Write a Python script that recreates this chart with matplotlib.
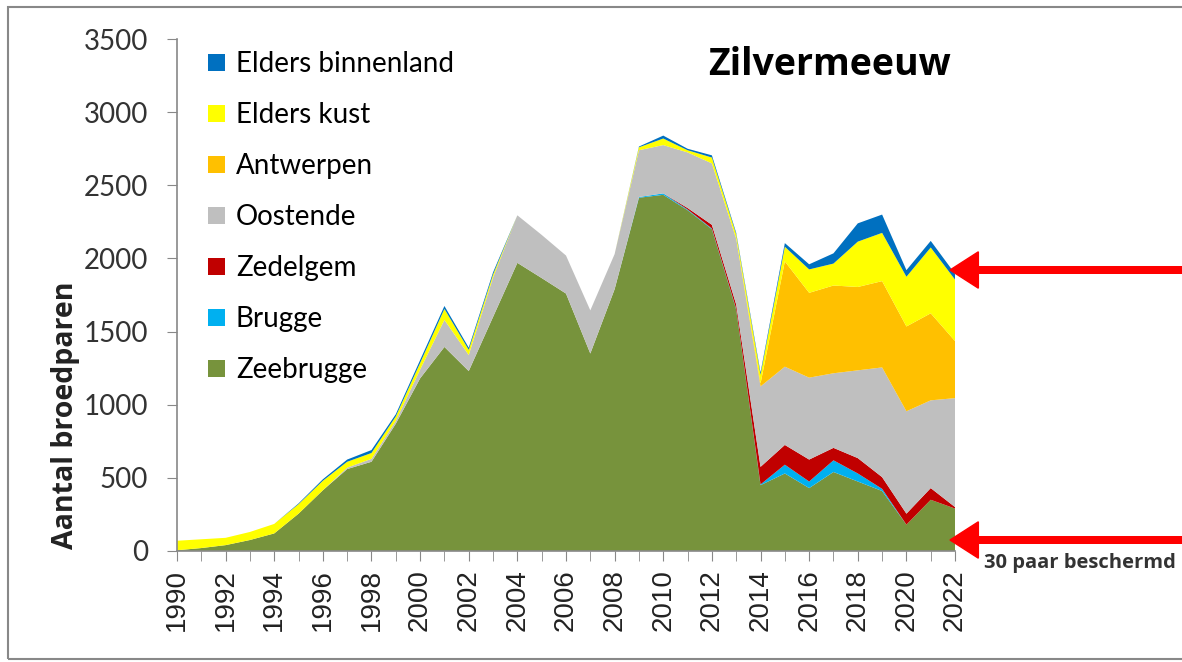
import numpy as np
import matplotlib
matplotlib.use("Agg")
import matplotlib.pyplot as plt
from matplotlib.patches import Patch, Rectangle, FancyArrow

years = list(range(1990, 2023))

zeebrugge = [5, 20, 40, 75, 120, 255, 415, 560, 610, 870, 1180, 1395, 1230, 1600, 1970,
             1866, 1760, 1350, 1790, 2415, 2435, 2330, 2200, 1650, 450, 530, 430, 540,
             475, 410, 180, 350, 290]
brugge = [0, 0, 0, 0, 0, 0, 0, 0, 0, 0, 0, 0, 0, 0, 0,
          0, 0, 0, 0, 5, 10, 5, 5, 5, 5, 60, 45, 80,
          55, 15, 0, 0, 0]
zedelgem = [0, 0, 0, 0, 0, 0, 0, 0, 0, 0, 0, 0, 0, 0, 0,
            0, 0, 0, 0, 0, 0, 10, 25, 30, 120, 135, 150, 85,
            105, 80, 75, 80, 10]
oostende = [0, 0, 0, 0, 0, 0, 0, 10, 20, 20, 60, 185, 110, 270, 325,
            295, 260, 295, 240, 320, 330, 380, 420, 450, 550, 535, 560, 510,
            600, 750, 700, 600, 745]
antwerpen = [0, 0, 0, 0, 0, 0, 0, 0, 0, 0, 0, 0, 0, 0, 0,
             0, 0, 0, 0, 0, 0, 0, 0, 0, 20, 720, 580, 600,
             570, 590, 580, 595, 390]
elders_kust = [65, 60, 50, 55, 65, 65, 65, 40, 40, 30, 45, 75, 35, 20, 0,
               0, 0, 0, 0, 20, 45, 15, 40, 30, 60, 100, 160, 150,
               310, 330, 340, 450, 420]
elders_binnenland = [0, 0, 0, 0, 0, 5, 10, 15, 20, 15, 20, 20, 15, 15, 0,
                     0, 0, 0, 0, 5, 20, 10, 15, 10, 15, 25, 35, 70,
                     125, 125, 45, 45, 40]

labels = ["Zeebrugge", "Brugge", "Zedelgem", "Oostende", "Antwerpen",
          "Elders kust", "Elders binnenland"]
colors = ["#77933C", "#00B0F0", "#C00000", "#BFBFBF", "#FFC000",
          "#FFFF00", "#0070C0"]

fig = plt.figure(figsize=(11.82, 6.62), dpi=100)
ax = fig.add_axes([0.1497, 0.1677, 0.808 - 0.1497, 0.941 - 0.1677])

ax.stackplot(years, zeebrugge, brugge, zedelgem, oostende, antwerpen,
             elders_kust, elders_binnenland, colors=colors, labels=labels,
             linewidth=0)

ax.set_xlim(1990, 2022)
ax.set_ylim(0, 3500)
ax.set_yticks(range(0, 3501, 500))
ax.set_xticks(years, minor=True)
ax.set_xticks(range(1990, 2023, 2))
ax.tick_params(axis="x", which="both", direction="out", length=7, color="#888888",
               labelrotation=90, pad=6)
ax.tick_params(axis="y", direction="out", length=7, color="#888888", pad=14)
for lab in ax.get_xticklabels():
    lab.set_fontfamily("Liberation Sans")
    lab.set_fontsize(20)
    lab.set_color("#222222")
for lab in ax.get_yticklabels():
    lab.set_fontfamily("Lato")
    lab.set_fontsize(20)
    lab.set_color("#333333")

for s in ["top", "right"]:
    ax.spines[s].set_visible(False)
for s in ["left", "bottom"]:
    ax.spines[s].set_color("#888888")
    ax.spines[s].set_linewidth(1.2)

ax.set_ylabel("Aantal broedparen", fontsize=20.5, fontweight="bold",
              family="Open Sans", color="#222222")
ax.yaxis.set_label_coords(-0.125, 0.266)

# legend: top entry first
handles = [Patch(facecolor=c) for c in colors][::-1]
leg = ax.legend(handles, labels[::-1], loc="upper left", frameon=False,
                bbox_to_anchor=(0.008, 1.025), handlelength=0.6, handleheight=0.6,
                handletextpad=0.4, labelspacing=0.9,
                prop={"family": "Lato", "size": 20})

ax.text(0.995, 0.949, "Zilvermeeuw", transform=ax.transAxes, ha="right", va="center",
        fontsize=27, fontweight="bold", family="Open Sans")

# red arrows on the right
for yp in [270, 540]:
    y = 1 - yp / 662
    arr = FancyArrow(1182 / 1182, y, -(1182 - 950) / 1182, 0, width=0.010,
                     head_width=0.055, head_length=0.024, length_includes_head=True,
                     color="#FF0000", transform=fig.transFigure, clip_on=False)
    fig.patches.append(arr)

fig.text(0.995, 1 - 563 / 662, "30 paar beschermd", ha="right", va="center",
         fontsize=14.5, fontweight="bold", color="#333333", family="Open Sans")

# grey frame around the chart
fig.patches.append(Rectangle((8 / 1182, 1 - 659 / 662), 1.1, (659 - 7) / 662,
                             transform=fig.transFigure, fill=False,
                             edgecolor="#888888", linewidth=1.5))

fig.savefig("out.png", dpi=100)
